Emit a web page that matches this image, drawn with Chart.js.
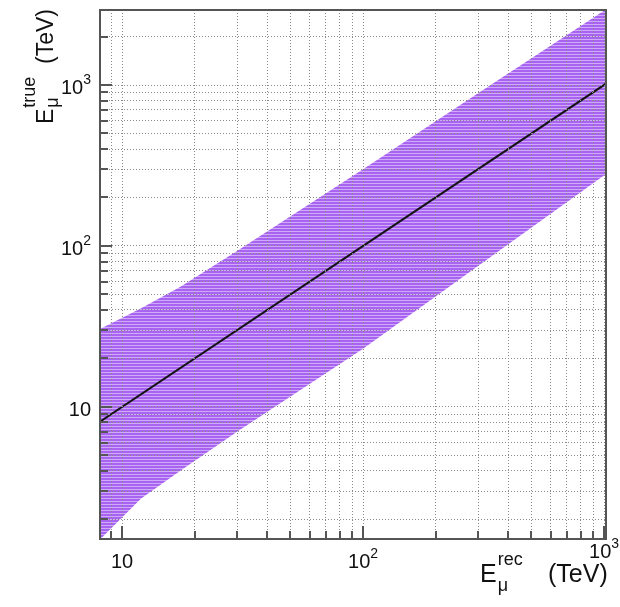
<!DOCTYPE html>
<html>
<head>
<meta charset="UTF-8">
<title>E true vs E rec</title>
<script src="https://cdn.jsdelivr.net/npm/chart.js@4.4.0/dist/chart.umd.min.js"></script>
<style>
  body { margin: 0; background: #fff; }
  #wrap { width: 620px; height: 607px; }
</style>
</head>
<body>
<div id="wrap"><canvas id="chart" width="620" height="607"></canvas></div>
<script>
// axis ranges (TeV)
const xRange = [8.1, 1019];
const yRange = [1.51, 2925];

// band edges
const bandX = [8.1, 12, 17.4, 30, 100, 300, 1019];
const bandUpper = [30.5, 41, 55.6, 93, 300, 890, 2950];
const bandLower = [1.5, 2.7, 4.0, 7.0, 23, 75, 280];

// reference line E_true = E_rec
const lineX = [8.1, 1019];
const lineY = [8.1, 1019];

// ticks
const xTicks = [9, 10, 20, 30, 40, 50, 60, 70, 80, 90, 100, 200, 300, 400, 500, 600, 700, 800, 900, 1000];
const yTicks = [2, 3, 4, 5, 6, 7, 8, 9, 10, 20, 30, 40, 50, 60, 70, 80, 90, 100, 200, 300, 400, 500, 600, 700, 800, 900, 1000, 2000];
const majorTicks = [10, 100, 1000];
const majorExp = ['', '2', '3'];

const FONT = '"Liberation Sans", Arial, sans-serif';

// striped purple fill like the ROOT band
function makePattern() {
  const c = document.createElement('canvas');
  c.width = 4; c.height = 3;
  const g = c.getContext('2d');
  g.fillStyle = 'rgb(168,100,240)';
  g.fillRect(0, 0, 4, 3);
  g.fillStyle = 'rgb(208,170,250)';
  g.fillRect(0, 0, 4, 1);
  return g.createPattern(c, 'repeat');
}

function powLabel(ctx, exp, x, y, align) {
  ctx.font = '20px ' + FONT;
  const w1 = ctx.measureText('10').width;
  ctx.font = '14px ' + FONT;
  const w2 = exp ? ctx.measureText(exp).width : 0;
  const w = w1 + w2;
  const x0 = align === 'right' ? x - w : x - w / 2;
  ctx.font = '20px ' + FONT;
  ctx.fillText('10', x0, y);
  if (exp) {
    ctx.font = '14px ' + FONT;
    ctx.fillText(exp, x0 + w1, y - 10);
  }
}

function axisTitle(ctx, sup, x, y, big, small, supDy, subDy, tevDx) {
  ctx.font = big + 'px ' + FONT;
  const wE = ctx.measureText('E').width;
  ctx.fillText('E', x, y);
  ctx.font = small + 'px ' + FONT;
  ctx.fillText(sup, x + wE + 1, y + supDy);
  ctx.fillText('μ', x + wE + 1, y + subDy);
  ctx.font = big + 'px ' + FONT;
  ctx.fillText('(TeV)', x + tevDx, y);
}

const framePlugin = {
  id: 'frame',
  afterDraw(chart) {
    const { ctx, chartArea: a, scales } = chart;
    ctx.save();
    ctx.strokeStyle = '#555';
    ctx.lineWidth = 2;
    // inner tick marks
    ctx.beginPath();
    xTicks.forEach(v => {
      const px = Math.round(scales.x.getPixelForValue(v));
      const len = majorTicks.includes(v) ? 13 : 8;
      ctx.moveTo(px, a.bottom);
      ctx.lineTo(px, a.bottom - len);
    });
    yTicks.forEach(v => {
      const py = Math.round(scales.y.getPixelForValue(v));
      const len = majorTicks.includes(v) ? 12 : 8;
      ctx.moveTo(a.left, py);
      ctx.lineTo(a.left + len, py);
    });
    ctx.stroke();
    ctx.strokeRect(a.left, a.top, a.right - a.left, a.bottom - a.top);

    // tick labels
    ctx.fillStyle = '#111';
    ctx.textBaseline = 'alphabetic';
    ctx.textAlign = 'left';
    majorTicks.forEach((v, i) => {
      const px = scales.x.getPixelForValue(v);
      powLabel(ctx, majorExp[i], px, i === 2 ? 558 : 568, 'center');
      const py = scales.y.getPixelForValue(v);
      powLabel(ctx, majorExp[i], 91, py + 9, 'right');
    });

    // axis titles
    axisTitle(ctx, 'rec', 480, 582, 25, 18, -17, 9, 68);
    ctx.translate(53, 124);
    ctx.rotate(-Math.PI / 2);
    axisTitle(ctx, 'true', 0, 0, 23, 18, -18, 5, 60);
    ctx.restore();
  }
};

const pts = (xs, ys) => xs.map((x, i) => ({ x: x, y: ys[i] }));

const gridOpts = { color: '#8a8a8a', lineWidth: 1, drawTicks: false, z: 1 };

new Chart(document.getElementById('chart'), {
  type: 'line',
  data: {
    datasets: [
      { data: pts(bandX, bandUpper), borderColor: 'rgba(0,0,0,0)', borderWidth: 0, pointRadius: 0, backgroundColor: makePattern(), fill: '+1', order: 1 },
      { data: pts(bandX, bandLower), borderColor: 'rgba(0,0,0,0)', borderWidth: 0, pointRadius: 0, fill: false, order: 1 },
      { data: pts(lineX, lineY), borderColor: '#141414', borderWidth: 2, pointRadius: 0, fill: false, order: -1 }
    ]
  },
  options: {
    responsive: false,
    animation: false,
    layout: { padding: { top: 10, right: 14, left: 0, bottom: 0 } },
    plugins: { legend: { display: false }, tooltip: { enabled: false } },
    scales: {
      x: {
        type: 'logarithmic', min: xRange[0], max: xRange[1],
        afterBuildTicks: s => { s.ticks = xTicks.map(v => ({ value: v })); },
        afterFit: s => { s.height = 68; },
        ticks: { display: false },
        grid: gridOpts,
        border: { display: false, dash: [1, 2] }
      },
      y: {
        type: 'logarithmic', min: yRange[0], max: yRange[1],
        afterBuildTicks: s => { s.ticks = yTicks.map(v => ({ value: v })); },
        afterFit: s => { s.width = 100; },
        ticks: { display: false },
        grid: gridOpts,
        border: { display: false, dash: [1, 2] }
      }
    }
  },
  plugins: [framePlugin]
});
</script>
</body>
</html>
